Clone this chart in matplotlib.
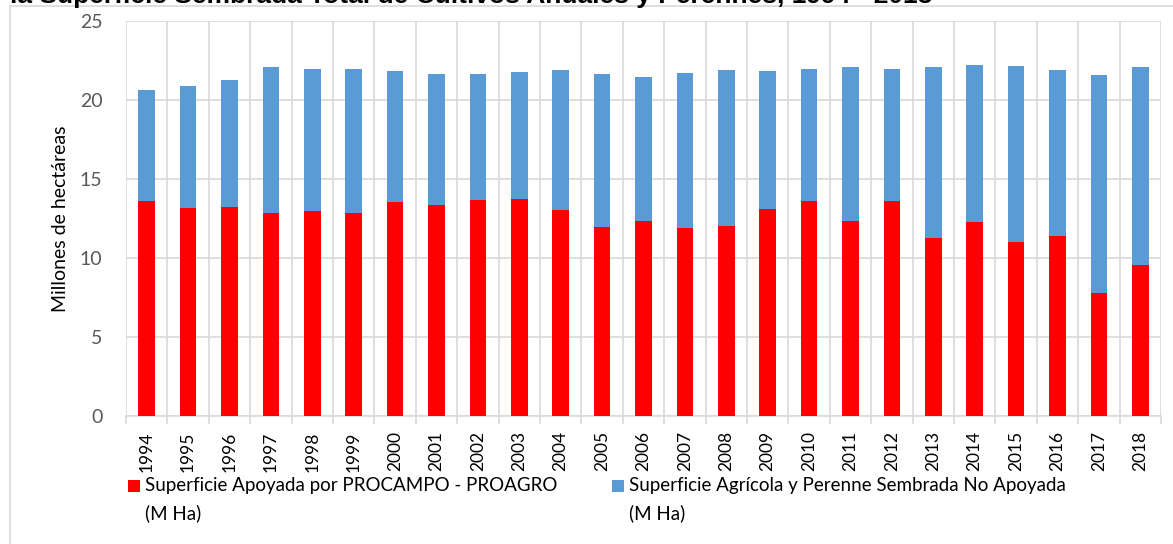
import matplotlib.pyplot as plt
from matplotlib.patches import Rectangle
from matplotlib.ticker import FixedLocator

years = [str(y) for y in range(1994, 2019)]
apoyada = [13.6, 13.16, 13.23, 12.85, 12.97, 12.85, 13.54, 13.35, 13.67, 13.73,
           13.04, 11.96, 12.34, 11.9, 12.03, 13.1, 13.6, 12.34, 13.6, 11.27,
           12.28, 11.0, 11.4, 7.78, 9.56]
total = [20.63, 20.89, 21.27, 22.09, 21.96, 21.96, 21.84, 21.65, 21.65, 21.77,
         21.9, 21.65, 21.46, 21.71, 21.9, 21.84, 21.96, 22.09, 21.96, 22.09,
         22.22, 22.15, 21.9, 21.58, 22.09]
no_apoyada = [t - a for t, a in zip(total, apoyada)]

lab_apoyada = 'Superficie Apoyada por PROCAMPO - PROAGRO'
lab_no_apoyada = 'Superficie Agrícola y Perenne Sembrada No Apoyada'
title = 'la Superficie Sembrada Total de Cultivos Anuales y Perennes, 1994 - 2018'

RED = '#ff0000'
BLUE = '#5b9bd5'
GRID = '#d9d9d9'

W, H = 1173, 544
plt.rcParams['font.family'] = ['Lato', 'DejaVu Sans']

fig = plt.figure(figsize=(W / 100, H / 100), dpi=100)

def fx(px):
    return px / W

def fy(py):
    return 1 - py / H

# chart area border
fig.patches.append(Rectangle((fx(10), -0.1), 1.2, fy(6.5) + 0.1, transform=fig.transFigure,
                             fill=False, edgecolor=GRID, lw=1.2))

ax = fig.add_axes([fx(126), fy(416), fx(1161) - fx(126), fy(21) - fy(416)])
x = list(range(len(years)))
ax.bar(x, apoyada, width=0.4, color=RED, zorder=3)
ax.bar(x, no_apoyada, width=0.4, bottom=apoyada, color=BLUE, zorder=3)

ax.set_xlim(-0.5, len(years) - 0.5)
ax.set_ylim(0, 25)
ax.set_yticks([0, 5, 10, 15, 20, 25])
ax.set_xticks(x)
ax.set_xticklabels(years, rotation=90, fontsize=12.5, color='black')
ax.xaxis.set_minor_locator(FixedLocator([i - 0.5 for i in range(len(years) + 1)]))
ax.tick_params(axis='x', which='major', length=0, pad=11)
ax.tick_params(axis='x', which='minor', length=6, color=GRID, width=1.2)
ax.tick_params(axis='y', length=0, pad=17, labelsize=14, labelcolor='#595959')
ax.grid(axis='y', color=GRID, lw=1.2, zorder=0)
ax.grid(axis='x', which='minor', color=GRID, lw=1.2, zorder=0)
for s in ['top', 'right', 'left']:
    ax.spines[s].set_visible(False)
ax.spines['bottom'].set_color(GRID)
ax.spines['bottom'].set_linewidth(1.2)
ax.set_ylabel('Millones de hectáreas', fontsize=14, labelpad=8)

# title is clipped by the top edge in the reference
fig.text(fx(10), fy(3), title, fontsize=19, fontweight='bold', va='baseline',
         family=['Liberation Sans', 'DejaVu Sans'])

# legend
for px, col, lab in [(128, RED, lab_apoyada), (612, BLUE, lab_no_apoyada)]:
    fig.patches.append(Rectangle((fx(px), fy(492)), fx(12), 12 / H, transform=fig.transFigure,
                                 facecolor=col, edgecolor='none'))
    fig.text(fx(px + 17), fy(486), lab, fontsize=13.5, va='center')
    fig.text(fx(px + 17), fy(513), '(M Ha)', fontsize=13.5, va='center')

fig.savefig('out.png', dpi=100)
